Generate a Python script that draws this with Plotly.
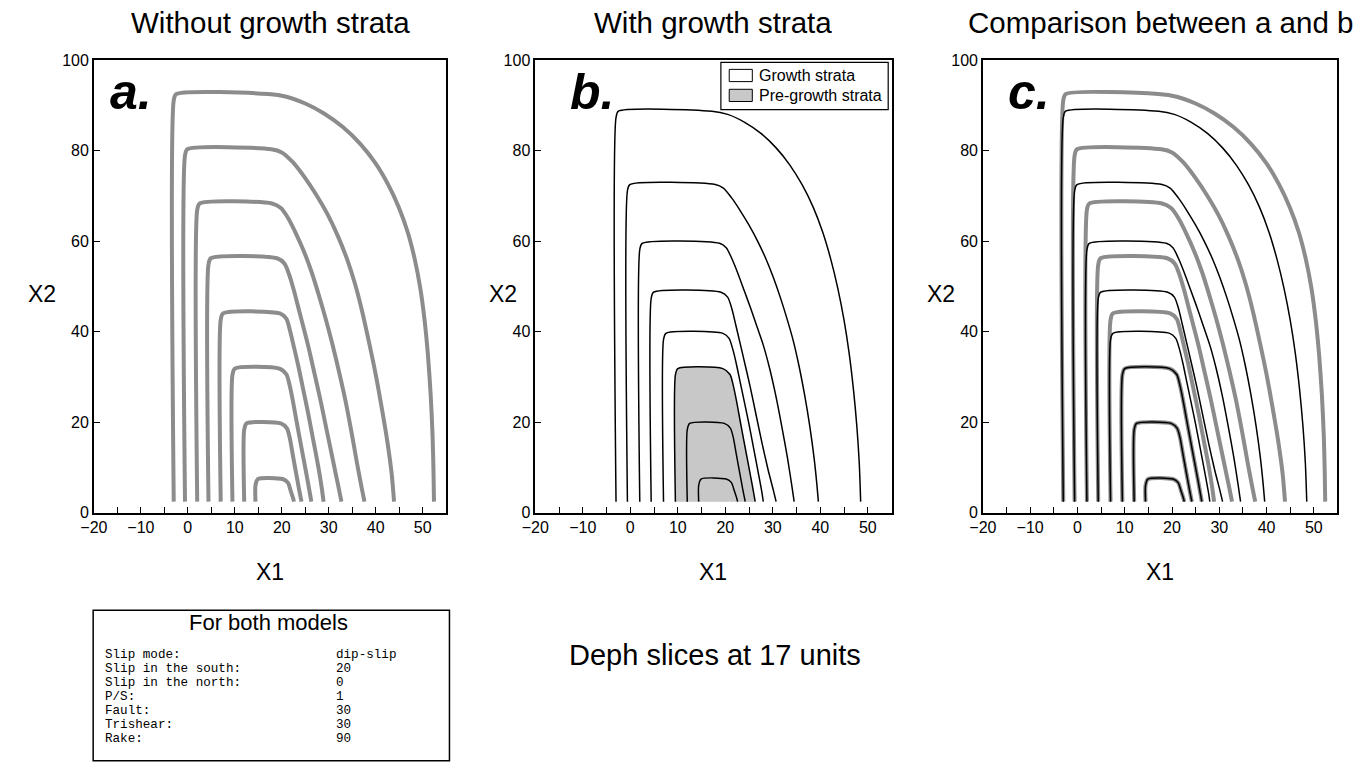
import plotly.graph_objects as go

# ---------------------------------------------------------------------------
# Depth-slice contours (X1, X2) of two trishear models.
# Every contour: vertical left flank at LEFT_X, flat crest at TOP_Y,
# then a curved right flank (points listed from crest corner down to base).
# ---------------------------------------------------------------------------
BASE_Y = 2.4
LEFT_X = [-3.0, -0.6, 2.0, 4.4, 7.0, 9.5, 12.0, 14.4]

# model a: without growth strata
TOP_Y_A = [92.5, 80.3, 68.3, 56.2, 44.0, 31.8, 19.7, 7.4]
RIGHT_X_A = [
    [17.1, 21.0, 25.0, 29.0, 33.0, 36.7, 39.9, 42.6, 44.9, 46.8, 48.3, 49.5, 50.4, 51.1, 51.7, 52.1, 52.3, 52.4],
    [17.8, 20.0, 22.3, 24.8, 27.3, 29.7, 31.9, 33.9, 35.6, 37.1, 38.6, 40.0, 41.3, 42.5, 43.4, 43.9],
    [17.9, 19.8, 21.4, 23.1, 24.8, 26.4, 27.9, 29.3, 30.7, 32.1, 33.5, 34.8, 36.0, 37.0, 37.6],
    [19.0, 20.6, 21.6, 22.6, 23.6, 24.6, 25.7, 26.9, 28.2, 29.6, 31.0, 32.1, 32.7],
    [19.6, 21.0, 21.8, 22.6, 23.5, 24.5, 25.6, 26.7, 27.8, 28.5, 28.9],
    [19.5, 21.0, 21.7, 22.3, 23.0, 23.8, 24.7, 25.6, 26.3],
    [19.8, 21.1, 21.7, 22.3, 23.0, 23.7, 24.2],
    [20.2, 21.3, 21.9, 22.4, 22.6],
]
RIGHT_Y_A = [
    [92.5, 91.9, 90.4, 88.2, 85.2, 81.5, 77.3, 72.6, 67.5, 62.0, 56.0, 49.5, 42.5, 35.0, 26.0, 17.0, 9.0, 2.4],
    [80.3, 79.6, 77.5, 74.2, 70.3, 66.0, 61.2, 56.0, 50.5, 44.5, 37.5, 30.5, 23.0, 15.5, 8.5, 2.4],
    [68.3, 67.3, 65.0, 61.5, 57.5, 53.0, 48.0, 43.0, 37.5, 31.5, 25.0, 18.0, 11.0, 5.5, 2.4],
    [56.2, 55.0, 52.5, 49.0, 45.0, 41.0, 36.5, 31.0, 25.0, 18.0, 11.0, 5.5, 2.4],
    [44.0, 42.8, 40.0, 36.5, 32.5, 27.5, 22.0, 16.0, 10.0, 5.5, 2.4],
    [31.8, 30.5, 28.0, 25.0, 21.0, 16.5, 11.5, 6.5, 2.4],
    [19.7, 18.6, 16.5, 13.0, 9.0, 5.0, 2.4],
    [7.4, 6.6, 4.8, 3.2, 2.4],
]

# model b: with growth strata (lowest three horizons are pre-growth)
TOP_Y_B = [88.7, 72.5, 59.5, 48.7, 39.6, 31.8, 19.7, 7.4]
RIGHT_X_B = [
    [17.2, 20.5, 24.0, 27.5, 30.7, 33.6, 36.2, 38.5, 40.5, 42.2, 43.7, 45.0, 46.1, 47.0, 47.7, 48.2, 48.5],
    [17.9, 19.6, 21.3, 23.1, 25.0, 26.8, 28.5, 30.1, 31.6, 33.0, 34.3, 35.5, 36.7, 37.8, 38.7, 39.3, 39.6],
    [18.8, 20.2, 21.3, 22.6, 24.0, 25.4, 26.7, 28.0, 29.3, 30.6, 31.9, 33.1, 34.0, 34.5],
    [19.1, 20.5, 21.4, 22.2, 23.1, 24.1, 25.2, 26.4, 27.7, 29.0, 30.1, 30.7],
    [19.5, 20.8, 21.6, 22.3, 23.1, 24.0, 25.0, 26.0, 27.0, 27.7, 28.0],
    [19.5, 21.0, 21.7, 22.3, 23.0, 23.8, 24.7, 25.6, 26.3],
    [19.8, 21.1, 21.7, 22.3, 23.0, 23.7, 24.2],
    [20.2, 21.3, 21.9, 22.4, 22.6],
]
RIGHT_Y_B = [
    [88.7, 88.0, 86.3, 83.8, 80.6, 76.8, 72.4, 67.5, 62.0, 56.0, 49.5, 42.5, 35.0, 27.0, 19.0, 11.0, 2.4],
    [72.5, 71.7, 69.6, 66.8, 63.5, 60.0, 56.2, 52.0, 47.5, 42.8, 38.0, 32.5, 26.0, 19.0, 12.0, 6.0, 2.4],
    [59.5, 58.5, 56.3, 53.0, 49.0, 45.0, 41.0, 37.0, 32.0, 26.0, 19.0, 12.0, 6.0, 2.4],
    [48.7, 47.6, 45.0, 41.5, 37.5, 33.0, 28.0, 22.0, 15.5, 9.5, 5.0, 2.4],
    [39.6, 38.5, 36.0, 33.0, 29.0, 24.5, 19.5, 14.0, 8.5, 4.5, 2.4],
    [31.8, 30.5, 28.0, 25.0, 21.0, 16.5, 11.5, 6.5, 2.4],
    [19.7, 18.6, 16.5, 13.0, 9.0, 5.0, 2.4],
    [7.4, 6.6, 4.8, 3.2, 2.4],
]
PREGROWTH_OUTER = 5  # index of the outermost pre-growth horizon in model b

PANEL_TITLES = ["Without growth strata", "With growth strata", "Comparison between a and b"]
PANEL_LETTERS = ["a.", "b.", "c."]
LEGEND_LABELS = ["Growth strata", "Pre-growth strata"]
LEGEND_FILLS = ["#ffffff", "#c8c8c8"]

X_TICKS = [-20, -10, 0, 10, 20, 30, 40, 50]
Y_TICKS = [0, 20, 40, 60, 80, 100]

BOX_TITLE = "For both models"
BOX_KEYS = ["Slip mode:", "Slip in the south:", "Slip in the north:", "P/S:",
            "Fault:", "Trishear:", "Rake:"]
BOX_VALUES = ["dip-slip", "20", "0", "1", "30", "30", "90"]
NOTE = "Deph slices at 17 units"

# ---------------------------------------------------------------------------
W, H = 1356, 763
GRAY = "#8c8c8c"
FILL_GRAY = "#c8c8c8"
SANS = "Liberation Sans, Arial, Helvetica, sans-serif"
MONO = "Liberation Mono, Courier New, monospace"
SMOOTH = 0.7


def px(x):
    return x / W


def py(y):
    return 1 - y / H


PANEL_X = [(80.7, 436.7), (526.7, 886.7), (979.0, 1337.3)]
PANEL_Y = (53.3, 516.0)


def contour(i, tops, rx, ry):
    xl = LEFT_X[i]
    xs = [xl, xl, xl + 0.5] + rx[i]
    ys = [BASE_Y, tops[i] - 1.4, tops[i]] + ry[i]
    return xs, ys


fig = go.Figure()

ax_names = [("x", "y"), ("x2", "y2"), ("x3", "y3")]


def add_lines(model, panel, color, width):
    xa, ya = ax_names[panel]
    tops, rx, ry = (TOP_Y_A, RIGHT_X_A, RIGHT_Y_A) if model == "a" else (TOP_Y_B, RIGHT_X_B, RIGHT_Y_B)
    for i in range(len(LEFT_X)):
        xs, ys = contour(i, tops, rx, ry)
        fig.add_trace(go.Scatter(
            x=xs, y=ys, mode="lines", xaxis=xa, yaxis=ya, showlegend=False,
            hoverinfo="skip",
            line=dict(color=color, width=width, shape="spline", smoothing=SMOOTH),
        ))


# panel a
add_lines("a", 0, GRAY, 4)

# panel b: pre-growth area filled, then all horizons
xs, ys = contour(PREGROWTH_OUTER, TOP_Y_B, RIGHT_X_B, RIGHT_Y_B)
fig.add_trace(go.Scatter(
    x=xs, y=ys, mode="lines", fill="toself",
    fillcolor=FILL_GRAY, xaxis="x2", yaxis="y2", showlegend=False,
    hoverinfo="skip", line=dict(width=0, color=FILL_GRAY, shape="spline", smoothing=SMOOTH),
))
add_lines("b", 1, "black", 1.5)

# panel c: both models overlaid
add_lines("a", 2, GRAY, 4)
add_lines("b", 2, "black", 1.5)

axis_common = dict(
    showgrid=False, zeroline=False, showline=True, linecolor="black",
    linewidth=1.5, mirror=True, ticks="inside", ticklen=6, tickwidth=1.3,
    tickcolor="black", tickfont=dict(family=SANS, size=16, color="black"),
)

layout_axes = {}
for k, (x0, x1) in enumerate(PANEL_X):
    sfx = "" if k == 0 else str(k + 1)
    layout_axes["xaxis" + sfx] = dict(
        axis_common, domain=[px(x0), px(x1)], range=[-20, 55],
        tickvals=X_TICKS, anchor="y" + sfx,
        minor=dict(dtick=5, tick0=0, ticks="inside", ticklen=6,
                   tickwidth=1.3, tickcolor="black"),
    )
    layout_axes["yaxis" + sfx] = dict(
        axis_common, domain=[py(PANEL_Y[1]), py(PANEL_Y[0])], range=[0, 100],
        tickvals=Y_TICKS, anchor="x" + sfx,
    )

fig.update_layout(
    width=W, height=H, autosize=False,
    margin=dict(l=0, r=0, t=0, b=0),
    paper_bgcolor="white", plot_bgcolor="white",
    showlegend=False,
    **layout_axes,
)

ann = []
shapes = []
for k, (x0, x1) in enumerate(PANEL_X):
    cx = (x0 + x1) / 2
    ann.append(dict(text=PANEL_TITLES[k], x=px(cx), y=py(15), xref="paper", yref="paper",
                    xanchor="center", yanchor="middle", showarrow=False,
                    font=dict(family=SANS, size=29.5, color="black")))
    ann.append(dict(text="X1", x=px(cx), y=py(577), xref="paper", yref="paper",
                    xanchor="center", yanchor="middle", showarrow=False,
                    font=dict(family=SANS, size=23, color="black")))

X2_POS = [28, 494, 937]
for k in range(3):
    ann.append(dict(text="X2", x=px(X2_POS[k]), y=py(293), xref="paper", yref="paper",
                    xanchor="center", yanchor="middle", showarrow=False,
                    font=dict(family=SANS, size=23, color="black")))

LETTER_PX = [95, 560, 1002]
for k in range(3):
    ann.append(dict(text="<b><i>%s</i></b>" % PANEL_LETTERS[k], x=px(LETTER_PX[k]), y=py(86),
                    xref="paper", yref="paper", xanchor="left", yanchor="middle",
                    showarrow=False, font=dict(family=SANS, size=50, color="black")))

# legend of panel b
shapes.append(dict(type="rect", xref="x2 domain", yref="y2 domain",
                   x0=0.521, x1=0.9906, y0=0.8904, y1=0.9948,
                   line=dict(color="black", width=1.2), fillcolor="white"))
for j, (lab, col) in enumerate(zip(LEGEND_LABELS, LEGEND_FILLS)):
    yc = [0.966, 0.922][j]
    shapes.append(dict(type="rect", xref="x2 domain", yref="y2 domain",
                       x0=0.5444, x1=0.6092, y0=yc - 0.0135, y1=yc + 0.0135,
                       line=dict(color="black", width=1), fillcolor=col))
    ann.append(dict(text=lab, x=0.622, y=yc, xref="x2 domain", yref="y2 domain",
                    xanchor="left", yanchor="middle", showarrow=False,
                    font=dict(family=SANS, size=16, color="black")))

# parameter box
shapes.append(dict(type="rect", xref="paper", yref="paper",
                   x0=px(80), x1=px(440), y0=py(770), y1=py(616),
                   line=dict(color="black", width=1.5), fillcolor="rgba(0,0,0,0)"))
ann.append(dict(text=BOX_TITLE, x=px(257), y=py(629), xref="paper", yref="paper",
                xanchor="center", yanchor="middle", showarrow=False,
                font=dict(family=SANS, size=22, color="black")))
for j, (key, val) in enumerate(zip(BOX_KEYS, BOX_VALUES)):
    yy = py(662 + j * 14.3)
    ann.append(dict(text=key, x=px(90), y=yy, xref="paper", yref="paper",
                    xanchor="left", yanchor="middle", showarrow=False,
                    font=dict(family=MONO, size=12.6, color="black")))
    ann.append(dict(text=val, x=px(323), y=yy, xref="paper", yref="paper",
                    xanchor="left", yanchor="middle", showarrow=False,
                    font=dict(family=MONO, size=12.6, color="black")))

ann.append(dict(text=NOTE, x=px(708), y=py(662), xref="paper", yref="paper",
                xanchor="center", yanchor="middle", showarrow=False,
                font=dict(family=SANS, size=29, color="black")))

fig.update_layout(annotations=ann, shapes=shapes)
fig.write_html("out.html")
